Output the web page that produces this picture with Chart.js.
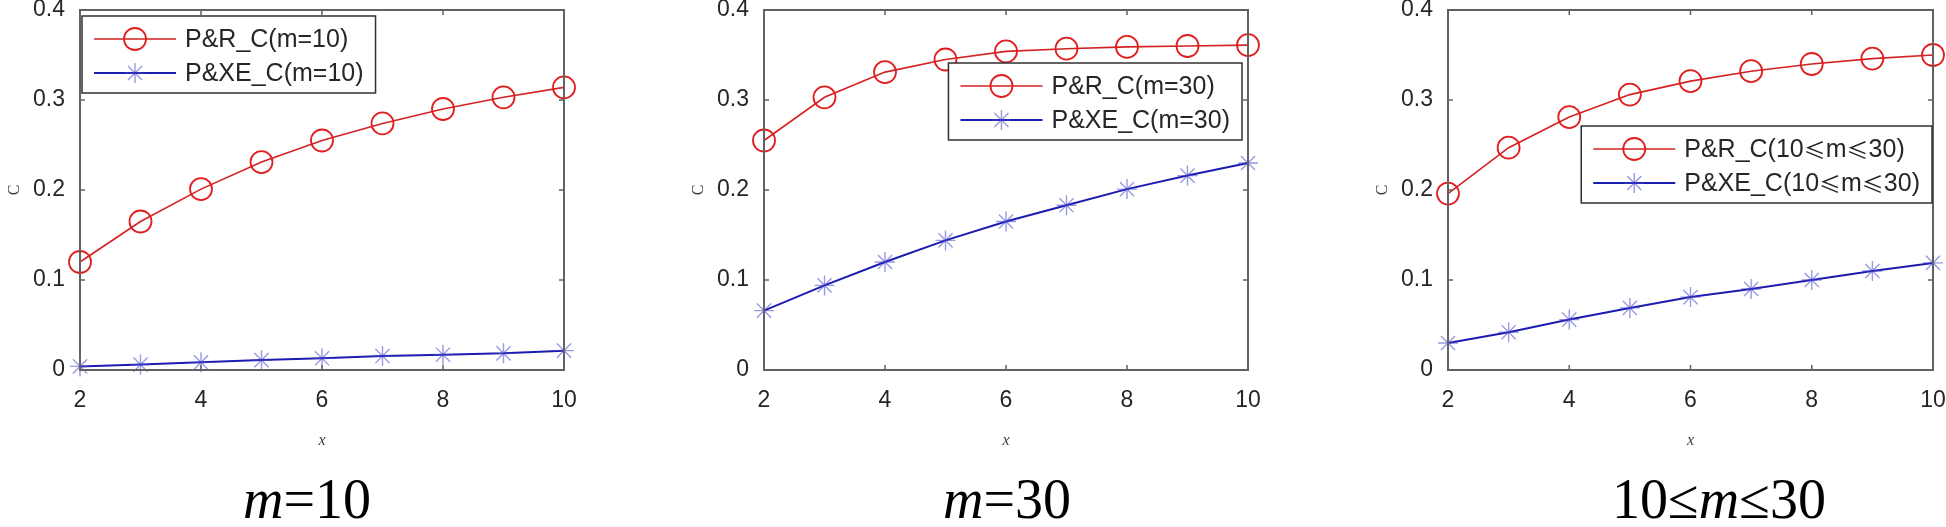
<!DOCTYPE html>
<html>
<head>
<meta charset="utf-8">
<title>C vs x</title>
<script src="https://cdn.jsdelivr.net/npm/chart.js@4.4.0/dist/chart.umd.min.js"></script>
<style>
  html, body { margin: 0; padding: 0; background: #fff; }
  body { width: 1946px; height: 527px; position: relative; overflow: hidden; }
  .panel { position: absolute; top: -20px; }
  .caption {
    position: absolute;
    top: 468px;
    font-family: "Liberation Serif", "Times New Roman", serif;
    font-size: 56px;
    line-height: 62px;
    color: #000;
    white-space: nowrap;
    transform: translateX(-50%);
  }
</style>
</head>
<body>
<div class="panel" style="left:0px"><canvas id="c1"></canvas></div>
<div class="panel" style="left:684px"><canvas id="c2"></canvas></div>
<div class="panel" style="left:1368px"><canvas id="c3"></canvas></div>

<div class="caption" style="left:307px"><i>m</i>=10</div>
<div class="caption" style="left:1007px"><i>m</i>=30</div>
<div class="caption" style="left:1719px">10≤<i>m</i>≤30</div>

<script>
// data
const xValues = [2, 3, 4, 5, 6, 7, 8, 9, 10];
const xTicks = [2, 4, 6, 8, 10];
const yTicks = [0, 0.1, 0.2, 0.3, 0.4];

const prM10 = [0.120, 0.165, 0.201, 0.231, 0.255, 0.274, 0.290, 0.303, 0.314];
const pxeM10 = [0.004, 0.006, 0.0085, 0.011, 0.013, 0.0155, 0.017, 0.0185, 0.0215];

const prM30 = [0.255, 0.303, 0.331, 0.345, 0.354, 0.357, 0.359, 0.360, 0.361];
const pxeM30 = [0.066, 0.094, 0.120, 0.144, 0.165, 0.183, 0.201, 0.216, 0.230];

const prRange = [0.196, 0.247, 0.281, 0.306, 0.321, 0.332, 0.340, 0.346, 0.350];
const pxeRange = [0.030, 0.042, 0.056, 0.069, 0.081, 0.090, 0.100, 0.110, 0.119];

const labelsM10 = ["P&R_C(m=10)", "P&XE_C(m=10)"];
const labelsM30 = ["P&R_C(m=30)", "P&XE_C(m=30)"];
const labelsRange = ["P&R_C(10≤m≤30)", "P&XE_C(10≤m≤30)"];

const TEXT = "#262626";
const SANS = '"Liberation Sans", Arial, Helvetica, sans-serif';
const SERIF = '"Liberation Serif", "Times New Roman", serif';
const CJK = '"Noto Sans CJK SC", sans-serif';

Chart.defaults.font.family = SANS;
Chart.defaults.color = TEXT;

const toPoints = (ys) => xValues.map((x, i) => ({ x: x, y: ys[i] }));

// the ≤ sign in the legend is the wide cjk glyph
function legendText(ctx, text, x, y, draw) {
  let cx = x;
  text.split(/(≤)/).forEach((part) => {
    if (!part) return;
    ctx.font = part === "≤" ? "22px " + CJK : "25px " + SANS;
    if (draw) ctx.fillText(part, cx, y);
    cx += ctx.measureText(part).width;
  });
  return cx - x;
}

// axes box with inward ticks, matlab style
const framePlugin = {
  id: "frame",
  afterDatasetsDraw(chart) {
    const { ctx, chartArea: a, scales } = chart;
    ctx.save();
    ctx.strokeStyle = "#626262";
    ctx.lineWidth = 2;
    ctx.strokeRect(a.left, a.top, a.width, a.height);
    ctx.lineWidth = 1.5;
    ctx.beginPath();
    xTicks.forEach((v) => {
      const px = scales.x.getPixelForValue(v);
      ctx.moveTo(px, a.bottom); ctx.lineTo(px, a.bottom - 5);
      ctx.moveTo(px, a.top); ctx.lineTo(px, a.top + 5);
    });
    yTicks.forEach((v) => {
      const py = scales.y.getPixelForValue(v);
      ctx.moveTo(a.left, py); ctx.lineTo(a.left + 5, py);
      ctx.moveTo(a.right, py); ctx.lineTo(a.right - 5, py);
    });
    ctx.stroke();
    ctx.restore();
  }
};

// legend box drawn inside the axes
const boxLegend = {
  id: "boxLegend",
  afterDatasetsDraw(chart, args, opts) {
    const { ctx, chartArea: a } = chart;
    const sets = chart.data.datasets;
    ctx.save();
    const textW = Math.max(...sets.map((d) => legendText(ctx, d.label, 0, 0, false)));
    const w = 103 + textW + 12;
    const h = 77;
    const x = opts.anchor === "right" ? a.right - opts.dx - w : a.left + opts.dx;
    const y = a.top + opts.dy;
    ctx.fillStyle = "#fff";
    ctx.fillRect(x, y, w, h);
    ctx.strokeStyle = "#303030";
    ctx.lineWidth = 1.5;
    ctx.strokeRect(x, y, w, h);
    sets.forEach((d, i) => {
      const ry = y + 23 + i * 34;
      ctx.strokeStyle = d.borderColor;
      ctx.lineWidth = d.borderWidth;
      ctx.beginPath();
      ctx.moveTo(x + 12, ry);
      ctx.lineTo(x + 94, ry);
      ctx.stroke();
      ctx.strokeStyle = d.pointBorderColor;
      ctx.fillStyle = "rgba(0,0,0,0)";
      ctx.lineWidth = d.pointBorderWidth;
      Chart.helpers.drawPoint(ctx, {
        pointStyle: d.pointStyle, radius: d.pointRadius, rotation: 0, borderWidth: d.pointBorderWidth
      }, x + 53, ry);
      ctx.fillStyle = TEXT;
      ctx.textBaseline = "middle";
      ctx.textAlign = "left";
      legendText(ctx, d.label, x + 103, ry + 1, true);
    });
    ctx.restore();
  }
};

function makePanel(id, plotWidth, prVals, pxeVals, labels, legendPos) {
  const canvas = document.getElementById(id);
  canvas.width = 80 + plotWidth + 14;
  canvas.height = 470;
  canvas.style.width = canvas.width + "px";
  canvas.style.height = canvas.height + "px";

  return new Chart(canvas, {
    type: "line",
    data: {
      datasets: [
        {
          label: labels[0],
          data: toPoints(prVals),
          borderColor: "#d42222",
          borderWidth: 1.6,
          pointStyle: "circle",
          pointRadius: 11,
          pointBorderWidth: 1.8,
          pointBorderColor: "#e01e1e",
          pointBackgroundColor: "rgba(0,0,0,0)",
          clip: false
        },
        {
          label: labels[1],
          data: toPoints(pxeVals),
          borderColor: "#1c1cb0",
          borderWidth: 2,
          pointStyle: "star",
          pointRadius: 10,
          pointBorderWidth: 1.4,
          pointBorderColor: "rgba(70,70,205,0.55)",
          pointBackgroundColor: "rgba(0,0,0,0)",
          clip: false
        }
      ]
    },
    options: {
      responsive: false,
      devicePixelRatio: 1,
      animation: false,
      layout: { padding: { top: 30, right: 14, bottom: 0, left: 0 } },
      plugins: {
        legend: { display: false },
        tooltip: { enabled: false },
        boxLegend: legendPos
      },
      scales: {
        x: {
          type: "linear",
          min: 2,
          max: 10,
          afterBuildTicks: (s) => { s.ticks = xTicks.map((v) => ({ value: v })); },
          afterFit: (s) => { s.height = 80; s.paddingLeft = 0; s.paddingRight = 0; },
          grid: { display: false, drawTicks: false },
          border: { display: false },
          ticks: { font: { size: 23 }, padding: 17, color: TEXT },
          title: {
            display: true, text: "x", color: "#404040", padding: 0,
            font: { family: SERIF, style: "italic", size: 16 }
          }
        },
        y: {
          type: "linear",
          min: 0,
          max: 0.4,
          afterBuildTicks: (s) => { s.ticks = yTicks.map((v) => ({ value: v })); },
          afterFit: (s) => { s.width = 80; s.paddingTop = 0; s.paddingBottom = 0; },
          grid: { display: false, drawTicks: false },
          border: { display: false },
          ticks: { font: { size: 23 }, padding: 15, color: TEXT, callback: (v) => String(v) },
          title: {
            display: true, text: "C", color: "#404040", padding: { top: 5, bottom: 0 },
            font: { family: SERIF, size: 16 }
          }
        }
      }
    },
    plugins: [framePlugin, boxLegend]
  });
}

makePanel("c1", 484, prM10, pxeM10, labelsM10, { anchor: "left", dx: 2, dy: 6 });
makePanel("c2", 484, prM30, pxeM30, labelsM30, { anchor: "right", dx: 6, dy: 53 });
makePanel("c3", 485, prRange, pxeRange, labelsRange, { anchor: "right", dx: 1, dy: 116 });
</script>
</body>
</html>
